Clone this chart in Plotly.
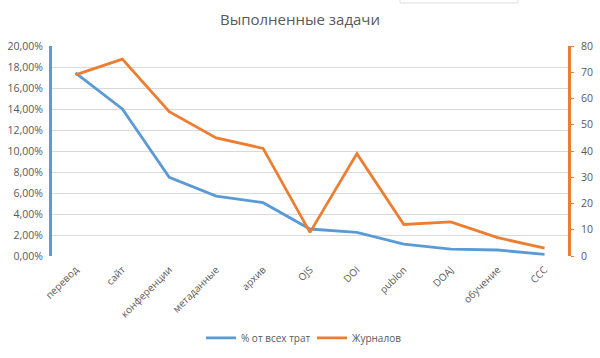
import plotly.graph_objects as go

categories = ["перевод", "сайт", "конференции", "метаданные", "архив", "OJS",
              "DOI", "publon", "DOAJ", "обучение", "CCC"]
share_pct = [0.1743, 0.140, 0.075, 0.057, 0.0508, 0.0257, 0.0225, 0.0114, 0.0066, 0.0057, 0.0016]
journals = [69, 75, 55, 45, 41, 9, 39, 12, 13, 7, 3]

left_ticks = [i / 100 for i in range(0, 21, 2)]
right_ticks = list(range(0, 81, 10))

blue = "#5B9BD5"
orange = "#ED7D31"
text_col = "#595959"
font_family = "Open Sans, Noto Sans, sans-serif"

fig = go.Figure()
fig.add_trace(go.Scatter(x=categories, y=share_pct, name="% от всех трат", mode="lines",
                         line=dict(color=blue, width=2.8), yaxis="y"))
fig.add_trace(go.Scatter(x=categories, y=journals, name="Журналов", mode="lines",
                         line=dict(color=orange, width=2.8), yaxis="y2"))

fig.update_layout(
    width=600, height=358,
    margin=dict(l=52, r=32, t=46, b=102, autoexpand=False),
    paper_bgcolor="white", plot_bgcolor="white",
    separators=", ",
    font=dict(family=font_family, size=10, color=text_col),
    title=dict(text="Выполненные задачи", x=0.5, xanchor="center", y=1 - 20 / 358, yanchor="middle",
               yref="container", automargin=False,
               font=dict(family=font_family, size=15, color=text_col)),
    xaxis=dict(type="category", tickangle=-45, showgrid=False, showline=False, ticks="",
               tickfont=dict(size=10, color=text_col), range=[-0.5, 10.5], automargin=False,
               ticklabelstandoff=5),
    yaxis=dict(range=[0, 0.2], tickvals=left_ticks, tickformat=".2%", showgrid=True,
               gridcolor="#D9D9D9", gridwidth=1, showline=True, linecolor=blue, linewidth=3,
               ticks="", tickfont=dict(size=10.5, color=text_col), zeroline=False,
               automargin=False, ticklabelstandoff=4),
    yaxis2=dict(range=[0, 80], tickvals=right_ticks, overlaying="y", side="right",
                showgrid=False, showline=True, linecolor=orange, linewidth=3,
                ticks="outside", ticklen=3, tickcolor=orange, tickwidth=1,
                tickfont=dict(size=10.5, color=text_col), zeroline=False, automargin=False,
                ticklabelstandoff=5),
    legend=dict(orientation="h", x=(201 - 52) / 516, xanchor="left", y=-0.39, yanchor="middle",
                font=dict(size=10, color=text_col), itemwidth=30,
                entrywidth=66, entrywidthmode="pixels"),
    shapes=[dict(type="rect", xref="paper", yref="paper", x0=(400 - 52) / 516, x1=(518 - 52) / 516,
                 y0=1 + 43 / 210, y1=1 + 52 / 210, line=dict(color="#E0E0E0", width=1),
                 fillcolor="white", layer="above")],
    showlegend=True,
)

fig.write_html("out.html", config={"displayModeBar": False},
               post_script="document.body.style.margin='0';")
